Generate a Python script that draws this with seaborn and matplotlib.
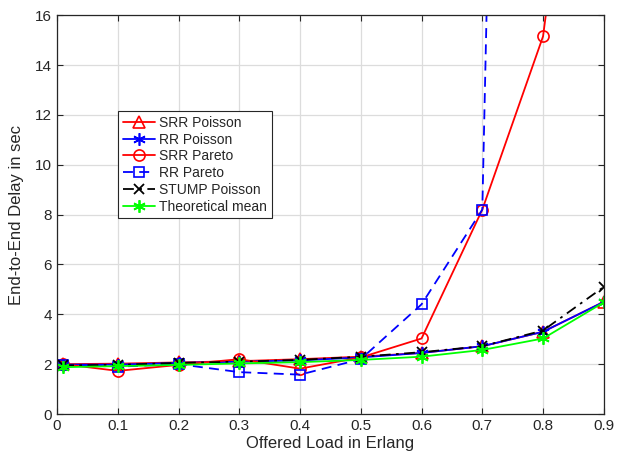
import matplotlib
matplotlib.use("Agg")
import matplotlib.pyplot as plt
import seaborn as sns
import numpy as np

sns.set_theme(style="white")
plt.rcParams['font.family'] = ['Liberation Sans', 'DejaVu Sans']

# Offered load (Erlang)
load = [0.01, 0.1, 0.2, 0.3, 0.4, 0.5, 0.6, 0.7, 0.8, 0.9]

# End-to-end delay (sec) per scheduler / traffic model
srr_poisson = [2.00, 2.02, 2.07, 2.12, 2.20, 2.30, 2.45, 2.72, 3.30, 4.50]
rr_poisson = [1.98, 1.98, 2.05, 2.10, 2.15, 2.27, 2.45, 2.72, 3.30, 4.50]
srr_pareto = [2.00, 1.73, 1.97, 2.20, 1.82, 2.27, 3.03, 8.20, 15.15, 34.0]
rr_pareto = [1.98, 1.90, 2.00, 1.68, 1.58, 2.20, 4.40, 8.20, 120.0, 300.0]
stump_poisson = [1.95, 1.97, 2.05, 2.10, 2.17, 2.30, 2.48, 2.72, 3.35, 5.10]
theoretical = [1.88, 1.92, 1.97, 2.03, 2.08, 2.17, 2.30, 2.57, 3.03, 4.48]

labels = ["SRR Poisson", "RR Poisson", "SRR Pareto", "RR Pareto",
          "STUMP Poisson", "Theoretical mean"]

asterisk = (6, 2, 0)
styles = [
    (srr_poisson, dict(color="#ff0000", linestyle="-", marker="^", markersize=8,
                       markerfacecolor="none", markeredgecolor="#ff0000", markeredgewidth=1.2)),
    (rr_poisson, dict(color="#0000ff", linestyle="-", marker=asterisk, markersize=9,
                      markeredgecolor="#0000ff", markeredgewidth=1.2)),
    (srr_pareto, dict(color="#ff0000", linestyle="-", marker="o", markersize=8,
                      markerfacecolor="none", markeredgecolor="#ff0000", markeredgewidth=1.2)),
    (rr_pareto, dict(color="#0000ff", linestyle=(0, (5.5, 3.5)), marker="s", markersize=7,
                     markerfacecolor="none", markeredgecolor="#0000ff", markeredgewidth=1.2)),
    (stump_poisson, dict(color="black", linestyle=(0, (6, 3, 1.5, 3)), marker="x", markersize=7,
                         markeredgecolor="black", markeredgewidth=1.3)),
    (theoretical, dict(color="#00ff00", linestyle="-", marker=asterisk, markersize=9,
                       markeredgecolor="#00ff00", markeredgewidth=1.3)),
]

fig = plt.figure(figsize=(6.27, 4.59), dpi=100)
ax = fig.add_axes([0.091, 0.098, 0.872, 0.869])

for (vals, kw), lab in zip(styles, labels):
    sns.lineplot(x=load, y=vals, ax=ax, label=lab, linewidth=1.3,
                 estimator=None, sort=False, **kw)

ax.set_xlim(0, 0.9)
ax.set_ylim(0, 16)
ax.set_xticks(np.arange(0, 0.91, 0.1))
ax.set_xticklabels(["0", "0.1", "0.2", "0.3", "0.4", "0.5", "0.6", "0.7", "0.8", "0.9"])
ax.set_yticks(np.arange(0, 17, 2))
ax.grid(True, color="#dcdcdc", linewidth=0.9)
ax.set_axisbelow(True)
for s in ax.spines.values():
    s.set_color("#262626")
    s.set_linewidth(0.9)
ax.tick_params(direction="in", length=4, width=0.8, colors="#262626",
               labelsize=11, top=True, right=True, bottom=True, left=True,
               labelcolor="#262626")
ax.set_xlabel("Offered Load in Erlang", fontsize=12, color="#262626", labelpad=2)
ax.set_ylabel("End-to-End Delay in sec", fontsize=12, color="#262626", labelpad=8)

leg = ax.legend(loc="upper left", bbox_to_anchor=(0.112, 0.76), fontsize=10,
                frameon=True, fancybox=False, framealpha=1, edgecolor="#262626",
                borderpad=0.35, labelspacing=0.2, handlelength=2.3,
                handletextpad=0.3, borderaxespad=0)
leg.get_frame().set_linewidth(0.8)

fig.savefig("out.png", dpi=100)
